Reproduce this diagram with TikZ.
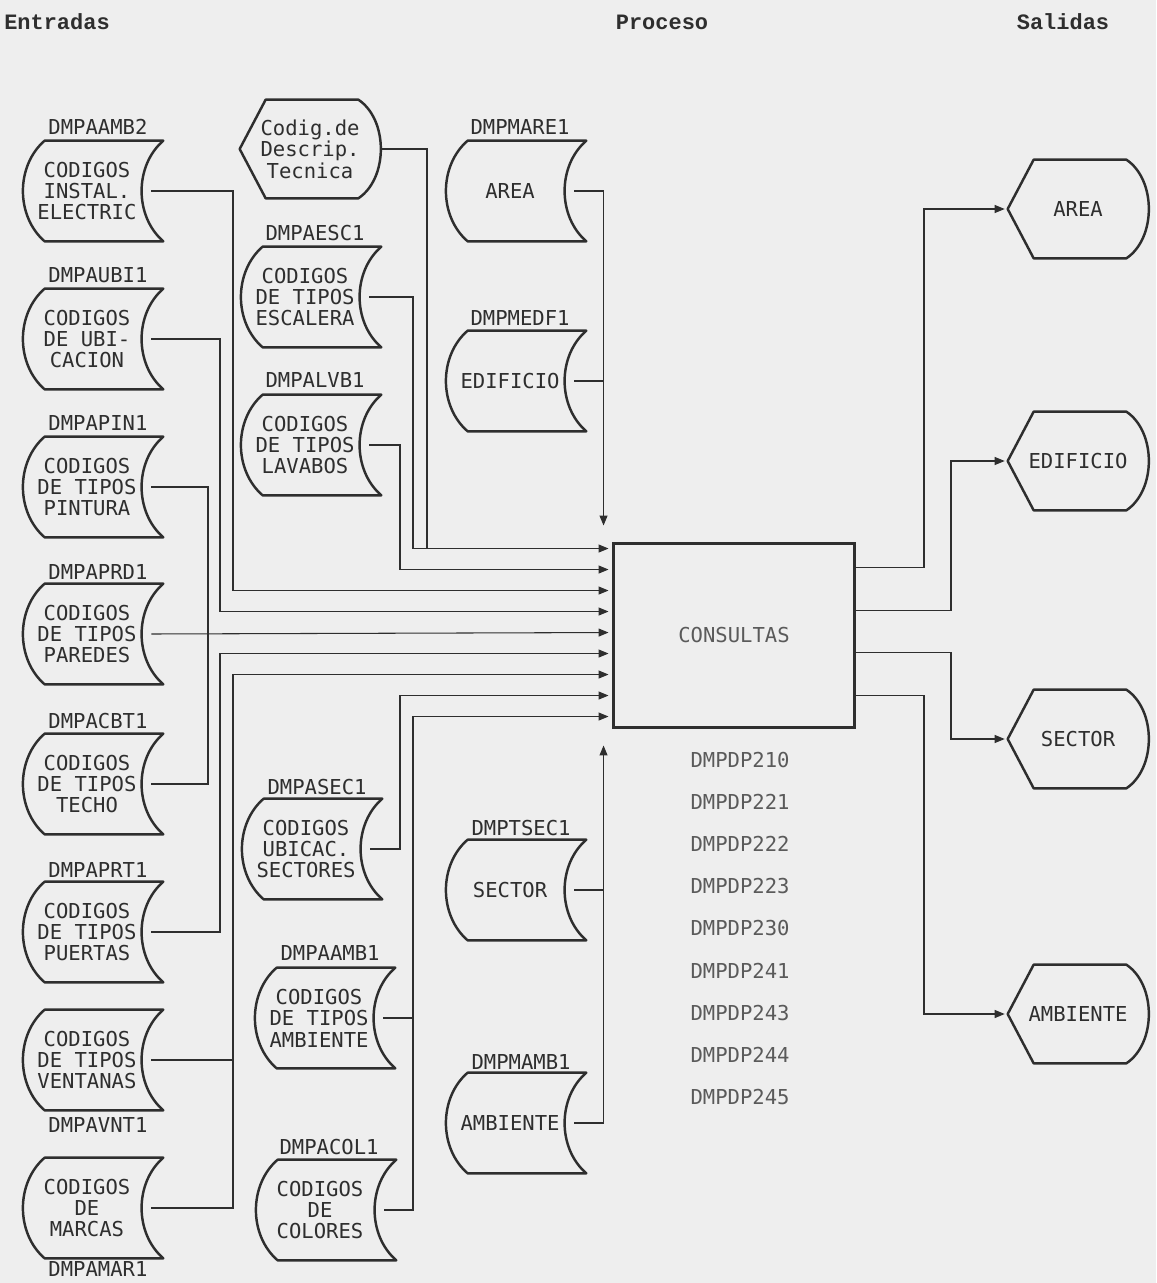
\documentclass[tikz,border=0pt]{standalone}
\usepackage{fontspec}
\newfontfamily\dotfont{DejaVu Sans Mono}
\newfontfamily\headfont{Liberation Mono}
\usepackage{tikz}
\usetikzlibrary{arrows.meta,calc}
\definecolor{paper}{HTML}{EEEEEE}
\definecolor{ink}{HTML}{2E2E2E}
\definecolor{faint}{HTML}{5A5A5A}

\begin{document}
\begin{tikzpicture}[x=0.02cm,y=-0.02cm,
  font=\dotfont\fontsize{11.7}{12.2}\selectfont,
  store/.style={minimum width=2.56cm,minimum height=2cm,inner sep=0pt,align=center,text=ink},
  disp/.style={minimum width=2.8cm,minimum height=1.96cm,inner sep=0pt,align=center,text=ink},
  tag/.style={text=ink,inner sep=0pt},
  head/.style={font=\headfont\bfseries\fontsize{12.5}{14}\selectfont,text=ink},
  outline/.style={ink,line width=1.4pt,line join=round},
  wire/.style={ink,line width=0.6pt},
  feed/.style={wire,shorten >=0.06cm,-{Triangle[length=0.2cm,width=0.16cm]}}]
  \fill[paper] (0,0) rectangle (1156,1283);
  \useasboundingbox (0,0) rectangle (1156,1283);

  \node[head] (entradas) at (57,22) {Entradas};
  \node[head] (proceso) at (662,22) {Proceso};
  \node[head] (salidas) at (1063,22) {Salidas};

  \node[store] (amb2) at (87,191) {CODIGOS\\INSTAL.\\ELECTRIC};
  \node[tag] (amb2t) at (98,127) {DMPAAMB2};
  \node[store] (ubi1) at (87,339) {CODIGOS\\DE UBI-\\CACION};
  \node[tag] (ubi1t) at (98,275) {DMPAUBI1};
  \node[store] (pin1) at (87,487) {CODIGOS\\DE TIPOS\\PINTURA};
  \node[tag] (pin1t) at (98,423) {DMPAPIN1};
  \node[store] (prd1) at (87,634) {CODIGOS\\DE TIPOS\\PAREDES};
  \node[tag] (prd1t) at (98,572) {DMPAPRD1};
  \node[store] (cbt1) at (87,784) {CODIGOS\\DE TIPOS\\TECHO};
  \node[tag] (cbt1t) at (98,721) {DMPACBT1};
  \node[store] (prt1) at (87,932) {CODIGOS\\DE TIPOS\\PUERTAS};
  \node[tag] (prt1t) at (98,870) {DMPAPRT1};
  \node[store] (vnt1) at (87,1060) {CODIGOS\\DE TIPOS\\VENTANAS};
  \node[tag] (vnt1t) at (98,1125) {DMPAVNT1};
  \node[store] (mar1) at (87,1208) {CODIGOS\\DE\\MARCAS};
  \node[tag] (mar1t) at (98,1269) {DMPAMAR1};

  \node[disp] (codig) at (310,149) {Codig.de\\Descrip.\\Tecnica};
  \node[store] (esc1) at (305,297) {CODIGOS\\DE TIPOS\\ESCALERA};
  \node[tag] (esc1t) at (315,233) {DMPAESC1};
  \node[store] (lvb1) at (305,445) {CODIGOS\\DE TIPOS\\LAVABOS};
  \node[tag] (lvb1t) at (315,380) {DMPALVB1};
  \node[store] (sec1) at (306,849) {CODIGOS\\UBICAC.\\SECTORES};
  \node[tag] (sec1t) at (317,787) {DMPASEC1};
  \node[store] (amb1) at (319,1018) {CODIGOS\\DE TIPOS\\AMBIENTE};
  \node[tag] (amb1t) at (330,953) {DMPAAMB1};
  \node[store] (col1) at (320,1210) {CODIGOS\\DE\\COLORES};
  \node[tag] (col1t) at (329,1147) {DMPACOL1};

  \node[store] (are1) at (510,191) {AREA};
  \node[tag] (are1t) at (520,127) {DMPMARE1};
  \node[store] (edf1) at (510,381) {EDIFICIO};
  \node[tag] (edf1t) at (520,318) {DMPMEDF1};
  \node[store] (tsec1) at (510,890) {SECTOR};
  \node[tag] (tsec1t) at (521,828) {DMPTSEC1};
  \node[store] (mamb1) at (510,1123) {AMBIENTE};
  \node[tag] (mamb1t) at (521,1062) {DMPMAMB1};

  \node[draw=ink,line width=1.7pt,minimum width=4.84cm,minimum height=3.7cm,text=faint] (cons) at (734,635.5) {CONSULTAS};
  \foreach \c [count=\i from 0] in {210,221,222,223,230,241,243,244,245}
    \node[tag,text=faint] (dp\c) at (740,760+42.1*\i) {DMPDP\c};

  \node[disp] (oarea) at (1078,209) {AREA};
  \node[disp] (oedif) at (1078,461) {EDIFICIO};
  \node[disp] (osect) at (1078,739) {SECTOR};
  \node[disp] (oamb) at (1078,1014) {AMBIENTE};

  \foreach \n in {amb2,ubi1,pin1,prd1,cbt1,prt1,vnt1,mar1,esc1,lvb1,sec1,amb1,col1,are1,edf1,tsec1,mamb1}
    \draw[outline] ($(\n.north west)+(22,0)$) -- ($(\n.north east)+(12,0)$)
      .. controls +(-29,25) and +(-29,-25) .. ($(\n.south east)+(12,0)$)
      -- ($(\n.south west)+(22,0)$)
      .. controls +(-29,-25) and +(-29,25) .. ($(\n.north west)+(22,0)$) -- cycle;
  \foreach \n in {codig,oarea,oedif,osect,oamb}
    \draw[outline] (\n.west) -- ($(\n.north west)+(26,0)$) -- ($(\n.north east)+(-22,0)$)
      .. controls +(30,20) and +(30,-20) .. ($(\n.south east)+(-22,0)$)
      -- ($(\n.south west)+(26,0)$) -- cycle;

  \foreach \i in {1,...,9}
    \coordinate (r\i) at ($(cons.north west)+(0,7+21*\i-21)$);
  \foreach \i in {1,...,4}
    \coordinate (o\i) at ($(cons.north east)+(0,26+42.7*\i-42.7)$);
  \coordinate (intop) at ($(cons.north west)+(-8,-13)$);
  \coordinate (inbot) at ($(cons.south west)+(-8,13)$);

  \draw[wire] (codig.east) -| (r1 -| 427,0);
  \draw[feed] (esc1.east) -| (r1 -| 413,0) -- (r1);
  \draw[feed] (lvb1.east) -| (r2 -| 400,0) -- (r2);
  \draw[feed] (amb2.east) -| (r3 -| 233,0) -- (r3);
  \draw[feed] (ubi1.east) -| (r4 -| 220,0) -- (r4);
  \draw[wire] (pin1.east) -| (cbt1.east -| 208,0) -- (cbt1.east);
  \draw[feed] (prd1.east) -- (r5);
  \draw[feed] (prt1.east) -| (r6 -| 220,0) -- (r6);
  \draw[wire] (vnt1.east) -- (vnt1.east -| 233,0);
  \draw[feed] (mar1.east) -| (r7 -| 233,0) -- (r7);
  \draw[feed] (sec1.east) -| (r8 -| 400,0) -- (r8);
  \draw[wire] (amb1.east) -- (amb1.east -| 413,0);
  \draw[feed] (col1.east) -| (r9 -| 413,0) -- (r9);

  \draw[feed] (are1.east) -| (intop);
  \draw[wire] (edf1.east) -- (edf1.east -| intop);
  \draw[feed] (mamb1.east) -| (inbot);
  \draw[wire] (tsec1.east) -- (tsec1.east -| inbot);

  \draw[feed] (o1) -| (oarea.west -| 924,0) -- (oarea.west);
  \draw[feed] (o2) -| (oedif.west -| 951,0) -- (oedif.west);
  \draw[feed] (o3) -| (osect.west -| 951,0) -- (osect.west);
  \draw[feed] (o4) -| (oamb.west -| 924,0) -- (oamb.west);
\end{tikzpicture}
\end{document}
